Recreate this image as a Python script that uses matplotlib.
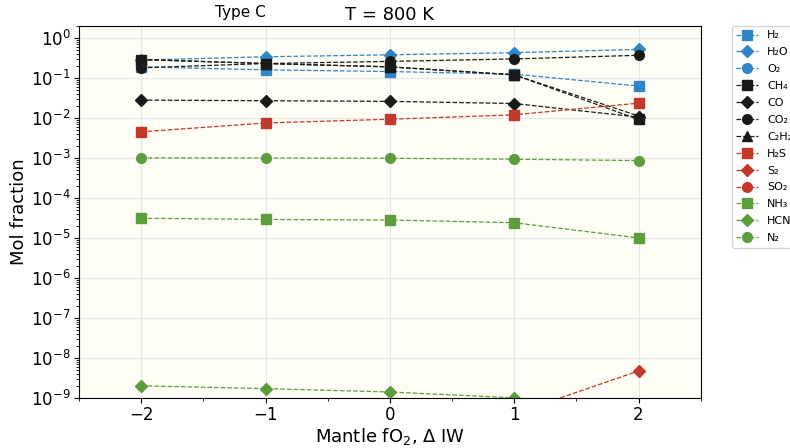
import matplotlib.pyplot as plt
from matplotlib.ticker import LogLocator, MultipleLocator, NullFormatter

# mantle oxygen fugacity relative to IW buffer
dIW = [-2, -1, 0, 1, 2]

species = ['H₂', 'H₂O', 'O₂', 'CH₄', 'CO', 'CO₂', 'C₂H₂',
           'H₂S', 'S₂', 'SO₂', 'NH₃', 'HCN', 'N₂']

H2 = [0.19, 0.16, 0.145, 0.125, 0.063]
H2O = [0.28, 0.34, 0.38, 0.43, 0.52]
O2 = [1e-25, 1e-24, 1e-23, 1e-22, 1e-21]
CH4 = [0.29, 0.23, 0.19, 0.12, 0.0092]
CO = [0.028, 0.027, 0.026, 0.023, 0.0105]
CO2 = [0.18, 0.23, 0.26, 0.30, 0.37]
C2H2 = [0.29, 0.23, 0.19, 0.12, 0.0112]
H2S = [0.0045, 0.0075, 0.0093, 0.012, 0.0235]
S2 = [1e-13, 1e-12, 1e-11, 4e-10, 4.7e-9]
SO2 = [1e-20, 1e-19, 1e-18, 1e-17, 1e-16]
NH3 = [3.1e-5, 2.9e-5, 2.8e-5, 2.4e-5, 1.0e-5]
HCN = [2.0e-9, 1.7e-9, 1.4e-9, 1.0e-9, 1e-12]
N2 = [1.0e-3, 1.0e-3, 0.98e-3, 0.93e-3, 0.86e-3]

series = [H2, H2O, O2, CH4, CO, CO2, C2H2, H2S, S2, SO2, NH3, HCN, N2]

blue = '#2f86c6'
black = '#1a1a1a'
red = '#c2382b'
green = '#5b9e3b'
colors = [blue] * 3 + [black] * 4 + [red] * 3 + [green] * 3
markers = ['s', 'D', 'o', 's', 'D', 'o', '^', 's', 'D', 'o', 's', 'D', 'o']

fig = plt.figure(figsize=(7.9, 4.48), dpi=100)
ax = fig.add_axes([0.1, 0.112, 0.787, 0.83])
ax.set_facecolor('#fefef6')

for name, vals, c, m in zip(species, series, colors, markers):
    ms = 6.5 if m == 'D' else 7
    ax.plot(dIW, vals, ls='--', lw=0.9, color=c, marker=m, markersize=ms,
            label=name)

ax.set_yscale('log')
ax.set_ylim(1e-9, 2.0)
ax.set_xlim(-2.5, 2.5)
ax.xaxis.set_major_locator(MultipleLocator(1))
ax.xaxis.set_minor_locator(MultipleLocator(0.5))
ax.yaxis.set_major_locator(LogLocator(base=10, numticks=20))
ax.yaxis.set_minor_locator(LogLocator(base=10, subs=range(2, 10), numticks=20))
ax.yaxis.set_minor_formatter(NullFormatter())
ax.tick_params(labelsize=12, pad=2.5)
ax.grid(True, color='#e6e6e6', lw=0.8)
ax.set_axisbelow(True)

ax.set_xlabel('Mantle fO$_2$, Δ IW', fontsize=13, labelpad=1)
ax.set_ylabel('Mol fraction', fontsize=13, labelpad=2)
ax.set_title('T = 800 K', fontsize=13, pad=4)
ax.text(0.26, 1.015, 'Type C', transform=ax.transAxes, fontsize=11,
        ha='center', va='bottom')

ax.legend(loc='upper left', bbox_to_anchor=(1.05, 1.0), borderaxespad=0,
          fontsize=8, handlelength=2.0, labelspacing=0.62)

fig.savefig('out.png', dpi=100)
